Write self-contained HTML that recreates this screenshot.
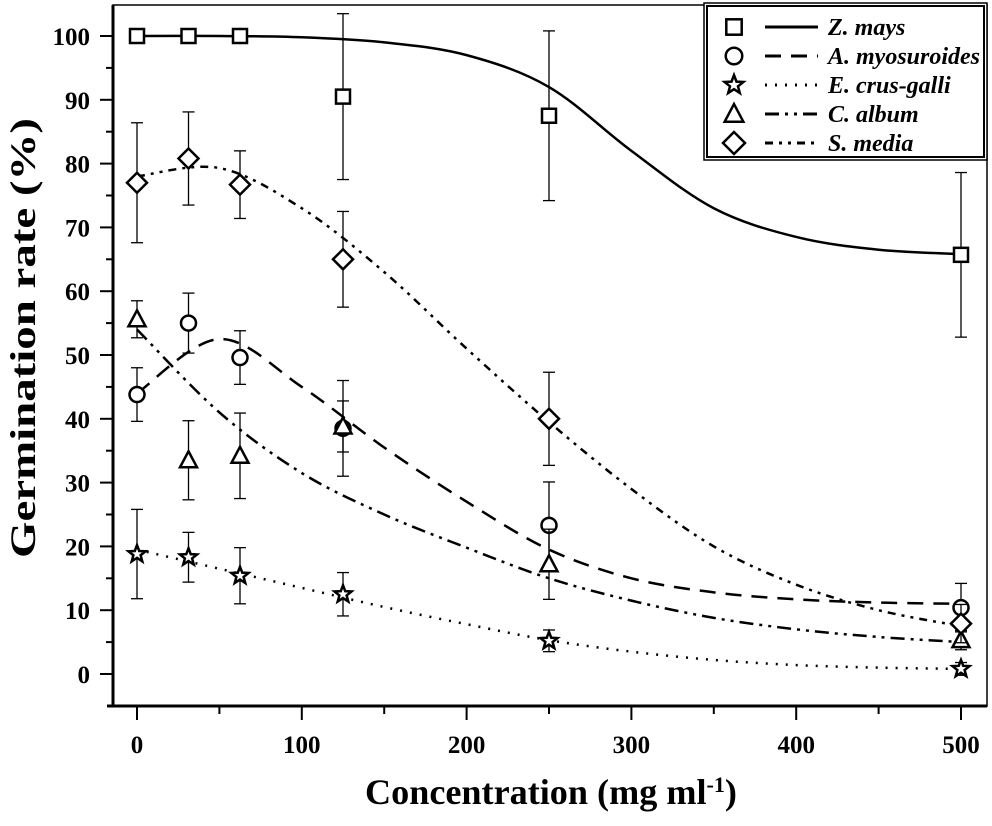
<!DOCTYPE html>
<html><head><meta charset="utf-8"><style>
body{margin:0;background:#fff;}
svg{display:block;font-family:"Liberation Serif",serif;font-weight:bold;}
</style></head><body>
<svg id="chart" width="992" height="826"></svg>
<script>
const xCats=[0,31.25,62.5,125,250,500];
const seriesNames=["Z. mays","A. myosuroides","E. crus-galli","C. album","S. media"];
const zMays=[100,100,100,90.5,87.5,65.7];
const zMaysErr=[0,0,0,13,13.3,12.9];
const aMyo=[43.8,55,49.6,38.5,23.3,10.4];
const aMyoErr=[4.2,4.7,4.2,7.5,6.8,3.8];
const eCrus=[18.8,18.3,15.4,12.5,5.2,0.8];
const eCrusErr=[7,3.9,4.4,3.4,1.7,1];
const cAlb=[55.6,33.5,34.2,38.8,17.2,5.3];
const cAlbErr=[2.9,6.2,6.7,4,5.5,1.5];
const sMed=[77,80.8,76.7,65,40,7.9];
const sMedErr=[9.4,7.3,5.3,7.5,7.3,3];
const fitX=[0,50,100,150,200,250,300,350,400,450,500];
const zMaysFit=[100,100,99.8,99,97,92,82,73,68.5,66.5,65.8];
const aMyoFit=[44,52.5,45,35.5,27,19.5,15,12.8,11.7,11.2,11];
const eCrusFit=[19.5,16.5,13.5,10.5,7.8,5.3,3.5,2.2,1.4,1,0.8];
const cAlbFit=[54,41,31.5,25,19.8,15,11.5,8.8,7,5.8,5];
const sMedFit=[78,79.3,73,63,51,39.5,29,20,14,10,7.5];
const xTicks=[0,100,200,300,400,500];
const yTicks=[0,10,20,30,40,50,60,70,80,90,100];

const NS="http://www.w3.org/2000/svg";
const svg=document.getElementById('chart');
const X=v=>137+v*1.648;
const Y=v=>674-v*6.38;
function mk(t,a,p){const e=document.createElementNS(NS,t);for(const k in a)e.setAttribute(k,a[k]);(p||svg).appendChild(e);return e;}

const fr=mk('rect',{x:113,y:5,width:874,height:701,fill:'none',stroke:'#000','stroke-width':1.5});


const ya=mk('line',{x1:113,y1:5,x2:113,y2:707,stroke:'#000','stroke-width':3});


const xa=mk('line',{x1:107,y1:706,x2:987,y2:706,stroke:'#000','stroke-width':3});



xTicks.forEach(t=>{
  mk('line',{x1:X(t),y1:706,x2:X(t),y2:720,stroke:'#000','stroke-width':2});
  mk('line',{x1:X(t+50),y1:706,x2:X(t+50),y2:714,stroke:'#000','stroke-width':2});
  const l=mk('text',{x:X(t),y:753,'text-anchor':'middle','font-size':25});
  l.textContent=t;
  
  
});
yTicks.forEach(t=>{
  mk('line',{x1:100,y1:Y(t),x2:113,y2:Y(t),stroke:'#000','stroke-width':2});
  if(t<100)mk('line',{x1:106,y1:Y(t+5),x2:113,y2:Y(t+5),stroke:'#000','stroke-width':2});
  const l=mk('text',{x:90,y:Y(t)+9,'text-anchor':'end','font-size':25});
  l.textContent=t;
  
  
});
const xt=mk('text',{x:365,y:804,'font-size':36,textLength:372,lengthAdjust:'spacingAndGlyphs'});
xt.innerHTML='Concentration (mg ml<tspan dy="-12" font-size="22">-1</tspan><tspan dy="12">)</tspan>';


const yt=mk('text',{x:0,y:0,'text-anchor':'middle','font-size':36,textLength:440,lengthAdjust:'spacingAndGlyphs',transform:'translate(35,338) rotate(-90)'});
yt.textContent='Germination rate (%)';



function smooth(xs,ys){
  const p=xs.map((x,i)=>[X(x),Y(ys[i])]);
  let d='M'+p[0][0]+','+p[0][1];
  for(let i=0;i<p.length-1;i++){
    const p0=p[i-1]||p[i],p1=p[i],p2=p[i+1],p3=p[i+2]||p2;
    const c1=[p1[0]+(p2[0]-p0[0])/6,p1[1]+(p2[1]-p0[1])/6];
    const c2=[p2[0]-(p3[0]-p1[0])/6,p2[1]-(p3[1]-p1[1])/6];
    d+=`C${c1[0]},${c1[1]} ${c2[0]},${c2[1]} ${p2[0]},${p2[1]}`;
  }
  return d;
}
const dashes=['','16,10','2,8','14,6,3,6,3,6','8,6,3,6,3,6'];
const fits=[zMaysFit,aMyoFit,eCrusFit,cAlbFit,sMedFit];
const vals=[zMays,aMyo,eCrus,cAlb,sMed];
const errs=[zMaysErr,aMyoErr,eCrusErr,cAlbErr,sMedErr];
const keys=['z-mays','a-myosuroides','e-crus-galli','c-album','s-media'];

function marker(k,cx,cy,g,s){
  s=s||1;
  const st={fill:'#fff',stroke:'#000','stroke-width':2.5};
  if(k===0)return mk('rect',Object.assign({x:cx-7*s,y:cy-7*s,width:14*s,height:14*s},st),g);
  if(k===1)return mk('circle',Object.assign({cx,cy,r:7.5*s},st),g);
  if(k===2){let pts=[];for(let i=0;i<10;i++){const r=(i%2?3.8:9)*s,a=-Math.PI/2+i*Math.PI/5;pts.push((cx+r*Math.cos(a))+','+(cy+r*Math.sin(a)));}
    return mk('polygon',Object.assign({points:pts.join(' ')},st),g);}
  if(k===3)return mk('polygon',Object.assign({points:`${cx},${cy-9*s} ${cx+8.5*s},${cy+7*s} ${cx-8.5*s},${cy+7*s}`},st),g);
  return mk('polygon',Object.assign({points:`${cx},${cy-10*s} ${cx+10*s},${cy} ${cx},${cy+10*s} ${cx-10*s},${cy}`},st),g);
}

fits.forEach((f,k)=>{
  const p=mk('path',{d:smooth(fitX,f),fill:'none',stroke:'#000','stroke-width':2.5,'stroke-dasharray':dashes[k]});
  
  
});
vals.forEach((vs,k)=>{
  const g=mk('g',{});
  
  
  vs.forEach((v,i)=>{
    const e=errs[k][i],cx=X(xCats[i]);
    if(e>0){
      mk('line',{x1:cx,y1:Y(v+e),x2:cx,y2:Y(v-e),stroke:'#000','stroke-width':1.3},g);
      mk('line',{x1:cx-6,y1:Y(v+e),x2:cx+6,y2:Y(v+e),stroke:'#000','stroke-width':1.3},g);
      mk('line',{x1:cx-6,y1:Y(v-e),x2:cx+6,y2:Y(v-e),stroke:'#000','stroke-width':1.3},g);
    }
  });
  vs.forEach((v,i)=>{
    const m=marker(k,X(xCats[i]),Y(v),g);
    
    
  });
});

const lg=mk('g',{});


mk('rect',{x:704,y:3,width:283,height:157,fill:'#fff',stroke:'#000','stroke-width':1.5},lg);
mk('rect',{x:707,y:6,width:277,height:151,fill:'none',stroke:'#000','stroke-width':2},lg);
seriesNames.forEach((n,k)=>{
  const cy=27+k*29;
  const e=mk('g',{},lg);
  
  
  marker(k,734,cy,e,1.1);
  mk('line',{x1:765,y1:cy,x2:818,y2:cy,stroke:'#000','stroke-width':3,'stroke-dasharray':dashes[k]},e);
  const t=mk('text',{x:828,y:cy+8,'font-size':24,'font-style':'italic'},e);
  t.textContent=n;
});
</script>
</body></html>
